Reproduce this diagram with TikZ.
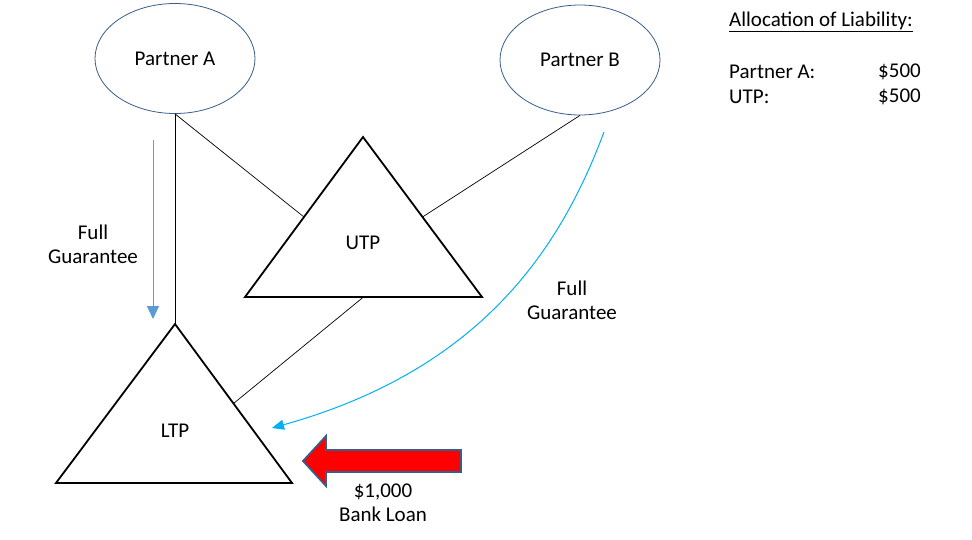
\documentclass[tikz,border=0pt]{standalone}
\usepackage{fontspec}
\setmainfont{Carlito}
\usetikzlibrary{calc,shapes.geometric,arrows.meta}
\definecolor{edgeblue}{HTML}{385D8A}
\definecolor{guarblue}{HTML}{5B9BD5}
\definecolor{curveblue}{HTML}{00B0F0}
\tikzset{
	partner/.style={draw=edgeblue, line width=0.8pt, ellipse, minimum width=160pt, minimum height=110pt, inner sep=0pt},
	tri/.style={draw=black, line width=1.8pt, line join=miter},
	link/.style={draw=black, line width=0.7pt},
	txt/.style={align=center, inner sep=0pt}
}

\begin{document}
\begin{tikzpicture}[x=1pt, y=-1pt, font=\fontsize{21}{24}\selectfont]
		%%%%% START %%%%%
		\useasboundingbox (0, 0) rectangle (972, 540);
		
		\node[partner] (partA) at (175, 58.5) {Partner A};
		\node[partner] (partB) at (580, 60) {Partner B};
		
		\coordinate (utpTop) at (363, 137);
		\coordinate (utpLeft) at (245, 297);
		\coordinate (utpRight) at (482, 297);
		\draw[tri] (utpTop) -- (utpLeft) -- (utpRight) -- cycle;
		\node[txt] (utp) at (363, 243) {UTP};
		
		\coordinate (ltpTop) at (175, 324);
		\coordinate (ltpLeft) at (56, 483);
		\coordinate (ltpRight) at (292, 483);
		\draw[tri] (ltpTop) -- (ltpLeft) -- (ltpRight) -- cycle;
		\node[txt] (ltp) at (175, 431) {LTP};
		
		\draw[link] (partA.south) -- (ltpTop);
		\draw[link] (partA.south) -- ($(utpTop)!0.5!(utpLeft)$);
		\draw[link] (partB.south) -- ($(utpTop)!0.5!(utpRight)$);
		\draw[link] ($(utpLeft)!0.5!(utpRight)$) -- ($(ltpTop)!0.5!(ltpRight)$);
		
		\coordinate (guarA) at (153, 140);
		\coordinate (guarAend) at (153, 319);
		\draw[guarblue, line width=1pt, -{Triangle[width=12pt, length=13pt]}] (guarA) -- (guarAend);
		\node[txt] (guarAtxt) at (93, 244) {Full\\Guarantee};
		
		\coordinate (guarB) at (604, 132);
		\coordinate (guarBend) at (272, 428);
		\draw[curveblue, line width=1pt, -{Triangle[width=10pt, length=12pt]}] (guarB) .. controls (560, 250) and (480, 370) .. (guarBend);
		\node[txt] (guarBtxt) at (572, 300) {Full\\Guarantee};
		
		\draw[fill=red, draw=edgeblue, line width=1.8pt, line join=miter] (303, 461) -- (326, 436) -- (326, 450) -- (461, 450) -- (461, 472) -- (326, 472) -- (326, 486) -- cycle;
		\node[txt] (loan) at (383, 503) {\$1,000\\Bank Loan};
		
		\node[anchor=west, inner sep=0pt] (alloc) at (729, 22) {\underline{Allocation of Liability:}};
		\node[anchor=west, inner sep=0pt] (allocA) at (729, 72) {Partner A:};
		\node[anchor=west, inner sep=0pt] (allocAval) at (878, 72) {\$500};
		\node[anchor=west, inner sep=0pt] (allocU) at (729, 97) {UTP:};
		\node[anchor=west, inner sep=0pt] (allocUval) at (878, 97) {\$500};
		
		%%%%% END %%%%%
	\end{tikzpicture}
\end{document}
